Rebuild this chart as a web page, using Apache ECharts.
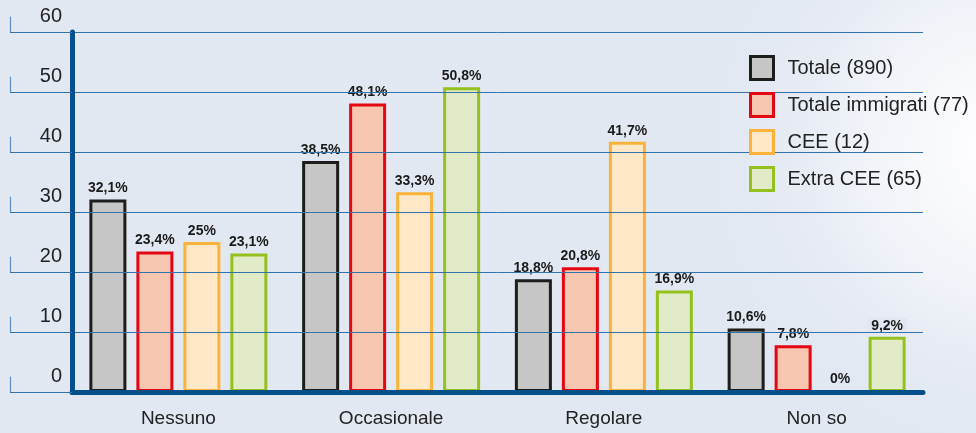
<!DOCTYPE html>
<html>
<head>
<meta charset="utf-8">
<script src="https://cdn.jsdelivr.net/npm/echarts@6/dist/echarts.min.js"></script>
<style>
html,body{margin:0;padding:0;background:#e2e8f2;}
#c{width:976px;height:433px;}
</style>
</head>
<body>
<div id="c"></div>
<script>
const categories = ['Nessuno', 'Occasionale', 'Regolare', 'Non so'];
const seriesNames = ['Totale (890)', 'Totale immigrati (77)', 'CEE (12)', 'Extra CEE (65)'];
const totale = [32.1, 38.5, 18.8, 10.6];
const totaleImmigrati = [23.4, 48.1, 20.8, 7.8];
const cee = [25, 33.3, 41.7, 0];
const extraCee = [23.1, 50.8, 16.9, 9.2];
const yTicks = [0, 10, 20, 30, 40, 50, 60];

const fills = ['#c6c6c6', '#f7c6b0', '#fee8c8', '#e1ebc7'];
const borders = ['#1d1d1b', '#e30613', '#fbb23a', '#95c11f'];
const values = [totale, totaleImmigrati, cee, extraCee];

const BASE = '#e2e8f2';
const GRID_LINE = '#3373a9';
const AXIS = '#03508a';
const FONT = "'Liberation Sans', Arial, Helvetica, sans-serif";

function bgGradient() {
  return {
    type: 'radial', x: 1010, y: 150, r: 290, global: true,
    colorStops: [
      {offset: 0, color: '#ffffff'},
      {offset: 0.3, color: '#f8f9fc'},
      {offset: 0.75, color: '#e6ebf4'},
      {offset: 1, color: BASE}
    ]
  };
}

const chart = echarts.init(document.getElementById('c'), null, {renderer: 'canvas'});

const series = values.map((arr, i) => ({
  name: seriesNames[i],
  type: 'bar',
  xAxisIndex: 0,
  yAxisIndex: 0,
  data: arr,
  barWidth: 37,
  barGap: '27%',
  itemStyle: {color: fills[i], borderColor: borders[i], borderWidth: 3},
  label: {
    show: true,
    position: 'top',
    distance: 3,
    formatter: p => String(p.value).replace('.', ',') + '%',
    fontFamily: FONT,
    fontSize: 14,
    fontWeight: 'bold',
    color: '#1a1a1a',
    backgroundColor: BASE,
    padding: [1, 4, 1, 4]
  },
  emphasis: {disabled: true}
}));

chart.setOption({
  animation: false,
  backgroundColor: 'transparent',
  graphic: [
    {type: 'rect', z: -10, silent: true, shape: {x: 0, y: 0, width: 976, height: 433}, style: {fill: bgGradient()}},
    {type: 'rect', z: 1, silent: true, shape: {x: 727, y: 45, width: 210, height: 150}, style: {fill: bgGradient()}}
  ],
  grid: [
    {left: 72, top: 32, right: 53, bottom: 41},
    {left: 10, top: 17, width: 1, bottom: 41}
  ],
  legend: {
    data: seriesNames,
    orient: 'vertical',
    left: 749,
    top: 55,
    padding: 0,
    icon: 'rect',
    itemWidth: 23,
    itemHeight: 23,
    itemGap: 11,
    itemStyle: {borderWidth: 3},
    textStyle: {fontFamily: FONT, fontSize: 20, color: '#222', padding: [0, 0, 0, 9]},
    selectedMode: false
  },
  xAxis: [
    {
      type: 'category', gridIndex: 0, data: categories,
      axisLine: {lineStyle: {color: AXIS, width: 5}},
      axisTick: {show: false},
      axisLabel: {fontFamily: FONT, fontSize: 19, color: '#222', margin: 17},
      z: 3
    },
    {type: 'value', gridIndex: 1, show: false, min: 0, max: 1}
  ],
  yAxis: [
    {
      type: 'value', gridIndex: 0, min: 0, max: 60, interval: 10,
      axisLine: {show: true, lineStyle: {color: AXIS, width: 5}},
      axisTick: {show: true, length: 62, lineStyle: {color: GRID_LINE, width: 1}},
      splitLine: {show: true, lineStyle: {color: GRID_LINE, width: 1}},
      axisLabel: {
        fontFamily: FONT, fontSize: 20, color: '#222', margin: 10,
        verticalAlign: 'bottom', padding: [0, 0, 6, 0],
        formatter: v => yTicks.includes(v) ? String(v) : ''
      },
      z: 3
    },
    {
      type: 'value', gridIndex: 1, min: 0, max: 62.5,
      axisLine: {show: true, lineStyle: {color: '#5a8fbf', width: 1.2, type: [15, 45]}},
      axisTick: {show: false},
      axisLabel: {show: false},
      splitLine: {show: false}
    }
  ],
  series: series
});
</script>
</body>
</html>
